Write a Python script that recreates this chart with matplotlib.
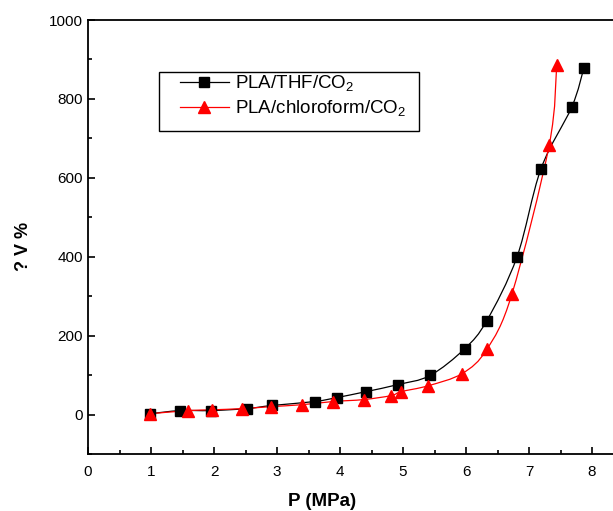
import matplotlib
matplotlib.use("Agg")
import matplotlib.pyplot as plt
import numpy as np
from matplotlib.path import Path
from matplotlib.patches import PathPatch, Rectangle
from matplotlib.lines import Line2D
from matplotlib.ticker import MultipleLocator

# PLA/THF/CO2
thf_p = [0.98, 1.46, 1.95, 2.52, 2.92, 3.60, 3.95, 4.41, 4.92, 5.43, 5.98, 6.33, 6.81, 7.19, 7.68, 7.87]
thf_v = [2, 10, 10, 15, 23, 33, 43, 58, 76, 99, 167, 238, 400, 623, 780, 878]

# PLA/chloroform/CO2
chl_p = [0.98, 1.59, 1.97, 2.44, 2.90, 3.40, 3.89, 4.38, 4.81, 4.97, 5.40, 5.94, 6.33, 6.73, 7.32, 7.44]
chl_v = [2, 10, 12, 15, 20, 25, 33, 38, 48, 58, 73, 104, 165, 306, 683, 886]

labels = [r"PLA/THF/CO$_2$", r"PLA/chloroform/CO$_2$"]

plt.rcParams["font.family"] = ["Liberation Sans", "DejaVu Sans"]
plt.rcParams["mathtext.fontset"] = "custom"
plt.rcParams["mathtext.rm"] = "Liberation Sans"


def smooth_path(xs, ys):
    """Catmull-Rom through the points, expressed as cubic Bezier segments."""
    pts = np.column_stack([xs, ys]).astype(float)
    verts = [pts[0]]
    codes = [Path.MOVETO]
    n = len(pts)
    for i in range(n - 1):
        p0 = pts[max(i - 1, 0)]
        p1 = pts[i]
        p2 = pts[i + 1]
        p3 = pts[min(i + 2, n - 1)]
        c1 = p1 + (p2 - p0) / 6.0
        c2 = p2 - (p3 - p1) / 6.0
        verts += [c1, c2, p2]
        codes += [Path.CURVE4] * 3
    return Path(verts, codes)


W, H = 613, 511
fig = plt.figure(figsize=(W / 100, H / 100), dpi=100)
ax = fig.add_axes([88 / W, 57 / H, 1 - 88 / W, (454 - 20) / H])

for xs, ys, color, marker, ms in [
    (thf_p, thf_v, "black", "s", 6.5),
    (chl_p, chl_v, "red", "^", 8),
]:
    ax.add_patch(PathPatch(smooth_path(xs, ys), facecolor="none", edgecolor=color, linewidth=0.9))
    ax.plot(xs, ys, linestyle="none", marker=marker, markersize=ms, color=color)

ax.set_xlim(0, 8.333)
ax.set_ylim(-100, 1000)
ax.xaxis.set_major_locator(MultipleLocator(1))
ax.xaxis.set_minor_locator(MultipleLocator(0.5))
ax.yaxis.set_major_locator(MultipleLocator(200))
ax.yaxis.set_minor_locator(MultipleLocator(100))
ax.tick_params(which="both", direction="in", labelsize=11, width=1.2)
ax.tick_params(which="major", length=5)
ax.tick_params(which="minor", length=3)
ax.tick_params(axis="x", pad=8)
ax.spines["right"].set_visible(False)
for s in ("left", "bottom", "top"):
    ax.spines[s].set_linewidth(1.3)

ax.set_xlabel("P (MPa)", fontsize=13.5, fontweight="bold")
ax.xaxis.set_label_coords((322 - 88) / (W - 88), -(493 - 454) / (454 - 20), transform=ax.transAxes)
ax.set_ylabel("? V %", fontsize=13, fontweight="bold")
ax.yaxis.set_label_coords(-(88 - 32) / (W - 88), (454 - 246) / (454 - 20), transform=ax.transAxes)

# legend box drawn separately so the inner padding matches the original
fig.patches.append(Rectangle((159 / W, (H - 131) / H), 260 / W, 59 / H,
                             transform=fig.transFigure, facecolor="white",
                             edgecolor="black", linewidth=1.0, zorder=3))
handles = [
    Line2D([], [], color="black", marker="s", markersize=6.5, linewidth=0.9),
    Line2D([], [], color="red", marker="^", markersize=8, linewidth=0.9),
]
leg = fig.legend(handles, labels, loc="upper left",
                 bbox_to_anchor=(180 / W, 1 - 74 / H), bbox_transform=fig.transFigure,
                 fontsize=13.5, frameon=False, borderpad=0, borderaxespad=0,
                 handlelength=2.6, handletextpad=0.35, labelspacing=0.25)
leg.set_zorder(4)

fig.savefig("out.png", dpi=100)
